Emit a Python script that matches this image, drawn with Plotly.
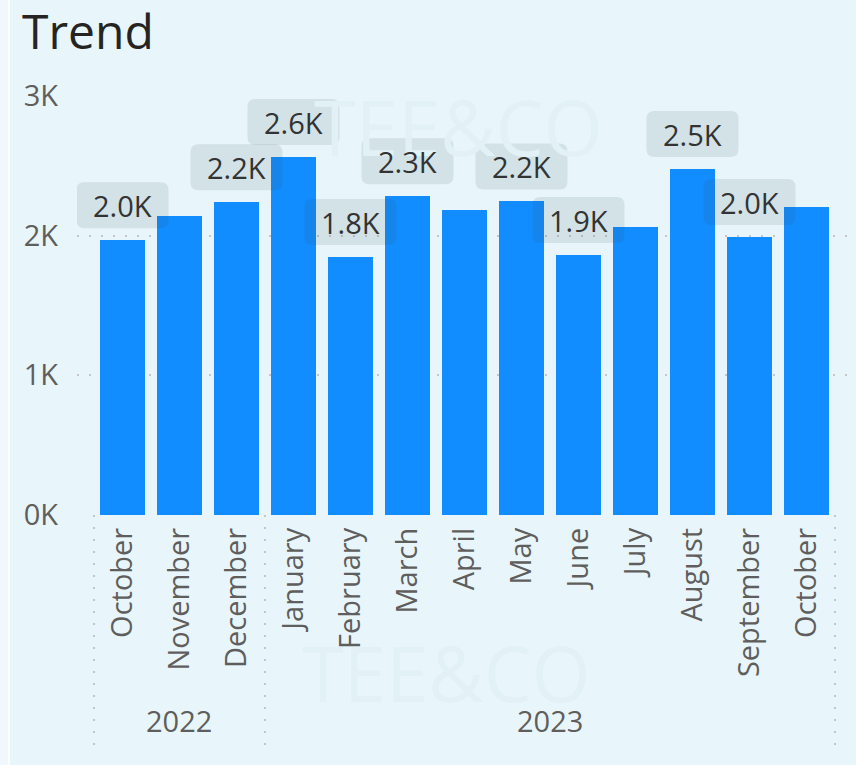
import plotly.graph_objects as go

# ---- data ----
months = ["October", "November", "December", "January", "February", "March",
          "April", "May", "June", "July", "August", "September", "October"]
month_years = ["2022", "2022", "2022", "2023", "2023", "2023", "2023",
               "2023", "2023", "2023", "2023", "2023", "2023"]
values = [1968, 2140, 2240, 2563, 1847, 2283, 2183, 2245, 1861, 2061, 2477, 1990, 2205]
label_shown = [True, False, True, True, True, True, False, True, True, False, True, True, False]
y_tickvals = [0, 1000, 2000, 3000]
y_ticktext = ["0K", "1K", "2K", "3K"]
title_text = "Trend"
watermark_text = "TEE&CO"

# ---- styling ----
FONT = "Open Sans, Noto Sans, sans-serif"
CARD_BG = "#E8F6FB"
BAR_COLOR = "#118DFF"
AXIS_TXT = "#605E5C"
GRID = "#C8C6C4"
W, H = 856, 765
ML, MR, MT, MB = 77, 9, 96, 250
PW = W - ML - MR
PH = H - MT - MB

x_idx = list(range(len(months)))

fig = go.Figure()
fig.add_trace(go.Bar(
    x=x_idx, y=values, width=0.79,
    marker=dict(color=BAR_COLOR, line=dict(width=0)),
    hoverinfo="skip",
))

shapes = []
annotations = []

# left page strip
shapes.append(dict(type="rect", xref="paper", yref="paper",
                   x0=-ML / PW, x1=-(ML - 8) / PW, y0=-MB / PH, y1=1 + MT / PH,
                   fillcolor="#F0F8FE", line=dict(width=0), layer="below"))
shapes.append(dict(type="rect", xref="paper", yref="paper",
                   x0=-(ML - 8) / PW, x1=-(ML - 10) / PW, y0=-MB / PH, y1=1 + MT / PH,
                   fillcolor="#FFFFFF", line=dict(width=0), layer="below"))

# watermark (faint)
annotations.append(dict(text=watermark_text, xref="paper", yref="paper",
                        x=(458 - ML) / PW, y=1 - (126 - MT) / PH, showarrow=False,
                        font=dict(family=FONT, size=76, color="#E2F1F6"),
                        xanchor="center", yanchor="middle"))
annotations.append(dict(text=watermark_text, xref="paper", yref="paper",
                        x=(446 - ML) / PW, y=1 - (672 - MT) / PH, showarrow=False,
                        font=dict(family=FONT, size=76, color="#E2F1F6"),
                        xanchor="center", yanchor="middle"))

# data label boxes + text
r = 8
bw, bh, gap = 46, 46, 12
box_path = (f"M {-bw + r},{gap} L {bw - r},{gap} Q {bw},{gap} {bw},{gap + r} "
            f"L {bw},{gap + bh - r} Q {bw},{gap + bh} {bw - r},{gap + bh} "
            f"L {-bw + r},{gap + bh} Q {-bw},{gap + bh} {-bw},{gap + bh - r} "
            f"L {-bw},{gap + r} Q {-bw},{gap} {-bw + r},{gap} Z")
for i, (v, show) in enumerate(zip(values, label_shown)):
    if not show:
        continue
    shapes.append(dict(type="path", xref="x", yref="y",
                       xsizemode="pixel", ysizemode="pixel",
                       xanchor=i, yanchor=v, path=box_path,
                       fillcolor="rgba(60,80,90,0.12)", line=dict(width=0),
                       layer="above"))
    annotations.append(dict(text=f"{v / 1000:.1f}K", x=i, y=v, xref="x", yref="y",
                            yshift=gap + bh / 2, showarrow=False,
                            xanchor="center", yanchor="middle",
                            font=dict(family=FONT, size=29, color="#333333")))

# year groups: separators + labels
groups = []
for i, yr in enumerate(month_years):
    if not groups or groups[-1][0] != yr:
        groups.append([yr, i, i])
    else:
        groups[-1][2] = i
boundaries = [groups[0][1] - 0.5] + [g[2] + 0.5 for g in groups]
for b in boundaries:
    shapes.append(dict(type="line", xref="x", yref="paper",
                       ysizemode="pixel", yanchor=0, x0=b, x1=b, y0=0, y1=-231,
                       line=dict(color=GRID, width=2, dash="2px,10px")))
for yr, s, e in groups:
    annotations.append(dict(text=yr, x=(s + e) / 2, y=0, xref="x", yref="paper",
                            yshift=-205, showarrow=False,
                            xanchor="center", yanchor="middle",
                            font=dict(family=FONT, size=29, color=AXIS_TXT)))

fig.update_layout(
    width=W, height=H,
    margin=dict(l=ML, r=MR, t=MT, b=MB, pad=0),
    paper_bgcolor=CARD_BG, plot_bgcolor="rgba(0,0,0,0)",
    showlegend=False,
    bargap=0,
    title=dict(text=title_text, x=22 / W, xref="container", xanchor="left",
               y=1 - 15 / H, yref="container", yanchor="top",
               font=dict(family=FONT, size=48, color="#252423")),
    xaxis=dict(range=[-0.798, 12.711], tickmode="array", tickvals=x_idx,
               ticktext=months, tickangle=-90, ticks="", showgrid=False,
               zeroline=False, showline=False, ticklabelstandoff=6,
               tickfont=dict(family=FONT, size=29, color=AXIS_TXT), fixedrange=True),
    yaxis=dict(range=[0, 3000], tickmode="array", tickvals=y_tickvals,
               ticktext=y_ticktext, ticks="", showgrid=True, gridcolor=GRID,
               gridwidth=2, griddash="2px,10px", zeroline=False, showline=False,
               ticklabelstandoff=18,
               tickfont=dict(family=FONT, size=29, color=AXIS_TXT), fixedrange=True),
    shapes=shapes,
    annotations=annotations,
)

fig.write_html("out.html", config={"displayModeBar": False},
               post_script="document.body.style.margin='0';document.body.style.overflow='hidden';")
